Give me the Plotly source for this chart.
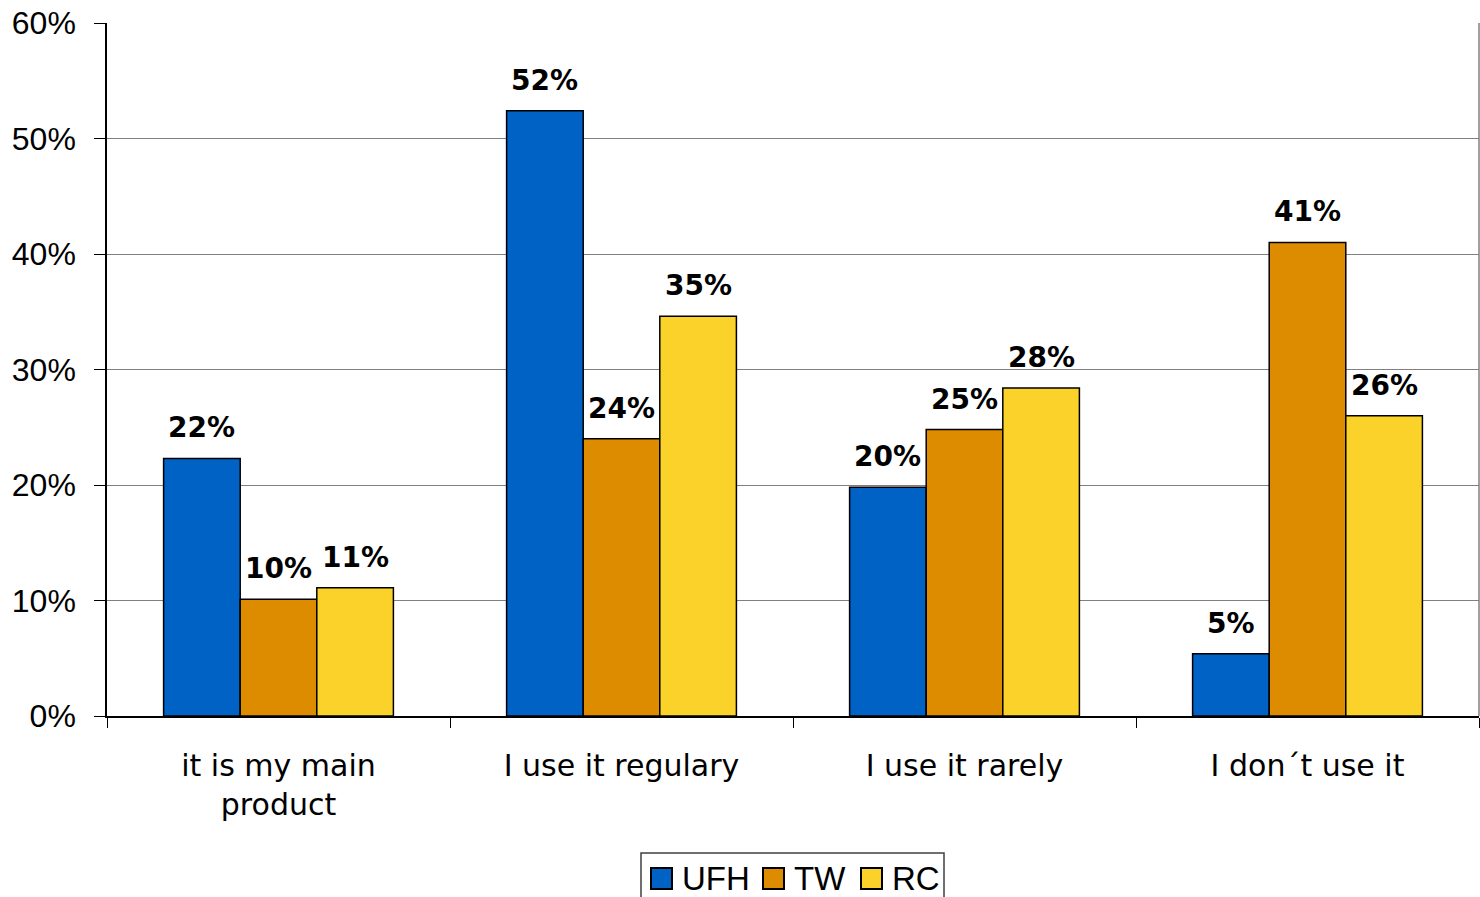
import plotly.graph_objects as go

categories = ["it is my main<br>product", "I use it regulary", "I use it rarely", "I don´t use it"]
series_names = ["UFH", "TW", "RC"]
ufh = [22.3, 52.4, 19.8, 5.4]
tw = [10.1, 24.0, 24.8, 41.0]
rc = [11.1, 34.6, 28.4, 26.0]
colors = ["#0062C4", "#DD8C00", "#FAD22A"]
y_ticks = [0, 10, 20, 30, 40, 50, 60]
y_tick_labels = [f"{t}%" for t in y_ticks]

series_values = [ufh, tw, rc]
bargap = 0.33
n_series = len(series_values)
bar_w = (1 - bargap) / n_series

# canvas and plot-area geometry (pixels)
W, H = 1480, 897
ML, MR, MT, MB = 107, 1, 23, 181
PW, PH = W - ML - MR, H - MT - MB


def px(x):
    return (x - ML) / PW


def py(y):
    return (H - MB - y) / PH


fig = go.Figure()
for name, vals, col in zip(series_names, series_values, colors):
    fig.add_trace(go.Bar(
        x=categories, y=vals, name=name, showlegend=False,
        marker=dict(color=col, line=dict(color="black", width=1.5)),
    ))

# value labels above each bar
annotations = []
for j, vals in enumerate(series_values):
    for i, v in enumerate(vals):
        annotations.append(dict(
            x=i + (j - (n_series - 1) / 2) * bar_w, y=v, xref="x", yref="y",
            text=f"{v:.0f}%", showarrow=False, yanchor="bottom", yshift=12,
            font=dict(family="DejaVu Sans", size=28, color="black", weight="bold"),
        ))

# legend: framed row of swatches below the axis
shapes = [
    dict(type="line", xref="paper", yref="paper", x0=1, x1=1, y0=0, y1=1,
         line=dict(color="#808080", width=1.5)),
    dict(type="rect", xref="paper", yref="paper",
         x0=px(641), x1=px(944), y0=py(853), y1=py(910),
         line=dict(color="#404040", width=1.5), fillcolor="white", layer="below"),
]
swatch_x = [651, 763, 861]
for sx, name, col in zip(swatch_x, series_names, colors):
    shapes.append(dict(type="rect", xref="paper", yref="paper",
                       x0=px(sx), x1=px(sx + 21), y0=py(868), y1=py(889),
                       line=dict(color="black", width=2), fillcolor=col))
    annotations.append(dict(x=px(sx + 29), y=py(878), xref="paper", yref="paper",
                            text=name, showarrow=False, xanchor="left", yanchor="middle",
                            font=dict(family="Liberation Sans", size=33, color="black")))

fig.update_layout(
    width=W, height=H,
    margin=dict(l=ML, r=MR, t=MT, b=MB, autoexpand=False),
    paper_bgcolor="white", plot_bgcolor="white",
    barmode="group", bargap=bargap, bargroupgap=0,
    font=dict(family="Liberation Sans", color="black"),
    annotations=annotations, shapes=shapes,
    showlegend=False,
)
fig.update_xaxes(
    type="category", showline=True, linecolor="black", linewidth=1.5,
    ticks="outside", tickson="boundaries", ticklen=10, tickcolor="black",
    tickfont=dict(family="DejaVu Sans", size=30, color="black"),
    ticklabelstandoff=22, showgrid=False,
)
fig.update_yaxes(
    range=[0, 60], tickvals=y_ticks, ticktext=y_tick_labels,
    showline=True, linecolor="black", linewidth=1.5,
    ticks="outside", ticklen=11, tickcolor="black",
    tickfont=dict(family="Liberation Sans", size=32, color="black"),
    ticklabelstandoff=12,
    showgrid=True, gridcolor="#808080", gridwidth=1.2, zeroline=False,
)

fig.write_html("out.html")
